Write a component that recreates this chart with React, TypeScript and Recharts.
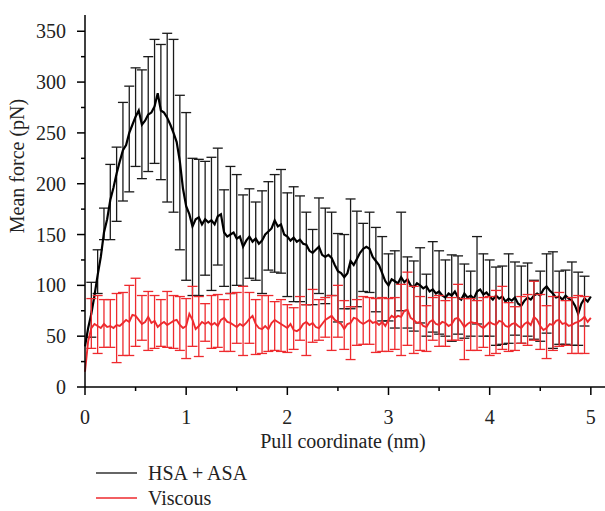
import { LineChart, Line, XAxis, YAxis, ErrorBar, Label } from "recharts";

const FONT = "'Liberation Serif', 'DejaVu Serif', serif";
const BLACK = "#000000";
const RED = "#ee2a2e";

// pull coordinate grid: one point every 1/32 nm, 0..5 nm
const X_STEP = 0.03125;

// HSA + ASA mean force (pN)
const hsaForce = [
  40, 58, 72, 90, 110, 128, 152, 165, 184, 196,
  210, 222, 233, 238, 250, 258, 266, 272, 258, 262,
  268, 270, 276, 289, 272, 270, 265, 258, 250, 241,
  222, 195, 178, 170, 158, 165, 167, 160, 165, 162,
  164, 160, 168, 170, 152, 148, 150, 152, 146, 148,
  138, 144, 148, 143, 146, 141, 144, 150, 153, 156,
  164, 158, 160, 150, 148, 144, 147, 143, 145, 141,
  140, 134, 132, 135, 138, 130, 128, 130, 127, 120,
  114, 112, 108, 112, 124, 120, 126, 132, 136, 138,
  136, 128, 124, 120, 112, 104, 100, 106, 104, 102,
  108, 103, 106, 100, 98, 102, 100, 97, 99, 94,
  96, 92, 94, 90, 88, 92, 90, 94, 88, 86,
  92, 88, 90, 87, 94, 96, 91, 93, 89, 86,
  90, 87, 89, 84, 87, 85, 88, 82, 80, 85,
  88, 86, 90, 92, 90, 96, 99, 95, 92, 88,
  89, 86, 90, 87, 85, 80, 72, 82, 87, 84,
  89,
];

// Viscous mean force (pN)
const viscForce = [
  15, 45, 58, 62, 60, 58, 62, 59, 60, 58,
  61, 60, 63, 66, 64, 71, 70, 66, 62, 64,
  69, 63, 65, 59, 62, 64, 61, 63, 65, 66,
  61, 58, 60, 72, 66, 57, 60, 64, 62, 64,
  61, 63, 60, 66, 68, 64, 63, 61, 59, 62,
  60, 63, 67, 70, 62, 58, 57, 60, 57, 63,
  66, 64, 62, 60, 58, 62, 56, 55, 57, 62,
  64, 61, 63, 59, 58, 62, 66, 68, 70, 66,
  64, 62, 57, 62, 63, 68, 67, 64, 62, 64,
  66, 63, 64, 61, 64, 60, 66, 70, 68, 70,
  69, 75, 76, 68, 66, 63, 64, 60, 59, 64,
  66, 62, 61, 64, 63, 60, 62, 67, 68, 64,
  59, 62, 64, 63, 63, 60, 58, 61, 64, 62,
  61, 65, 64, 60, 59, 62, 63, 60, 58, 62,
  64, 61, 69, 66, 60, 56, 58, 62, 61, 65,
  66, 62, 63, 60, 61, 63, 64, 66, 69, 64,
  68,
];

// error bar ends, one bar every 1/16 nm starting at 1/16 nm
const hsaBarLow = [
  49, 92, 145, 145, 163, 183, 192, 217, 205, 212,
  220, 204, 182, 172, 135, 105, 90, 90, 110, 95,
  120, 99, 92, 100, 99, 107, 105, 92, 115, 113,
  112, 89, 84, 84, 81, 81, 92, 82, 90, 64,
  77, 77, 79, 94, 93, 74, 65, 65, 58, 75,
  58, 55, 63, 50, 54, 52, 50, 45, 52, 48,
  50, 62, 50, 50, 41, 42, 43, 51, 43, 50,
  47, 45, 53, 38, 42, 42, 41, 41, 60,
];
const hsaBarHigh = [
  103, 135, 176, 219, 236, 280, 296, 314, 312, 325,
  342, 337, 348, 342, 287, 270, 225, 224, 222, 226,
  235, 194, 217, 209, 189, 195, 182, 193, 202, 209,
  214, 191, 197, 188, 172, 155, 186, 176, 172, 151,
  150, 185, 173, 161, 172, 157, 148, 131, 134, 172,
  128, 124, 137, 111, 143, 134, 125, 130, 129, 121,
  114, 148, 131, 125, 118, 119, 131, 123, 119, 122,
  105, 114, 131, 133, 114, 115, 123, 113, 109,
];
const viscBarLow = [
  38, 33, 39, 39, 24, 31, 31, 40, 46, 36,
  38, 40, 39, 38, 36, 28, 40, 30, 45, 38,
  39, 35, 35, 43, 31, 43, 32, 33, 35, 36,
  35, 34, 37, 46, 31, 44, 46, 49, 36, 49,
  37, 27, 41, 42, 42, 34, 35, 35, 37, 31,
  41, 33, 36, 35, 46, 40, 40, 46, 46, 27,
  36, 36, 39, 31, 33, 37, 35, 36, 43, 41,
  46, 37, 28, 36, 40, 41, 33, 33, 33,
];
const viscBarHigh = [
  87, 90, 86, 86, 92, 93, 100, 107, 90, 94,
  90, 86, 94, 90, 89, 87, 99, 89, 82, 90,
  91, 86, 92, 93, 99, 93, 86, 90, 90, 84,
  86, 81, 78, 89, 81, 96, 86, 88, 90, 100,
  85, 79, 86, 89, 88, 87, 88, 87, 88, 101,
  113, 99, 89, 80, 88, 90, 85, 88, 101, 87,
  87, 85, 88, 89, 95, 99, 83, 79, 89, 91,
  104, 91, 80, 89, 93, 85, 88, 90, 89,
];

const xTicks = [0, 0.5, 1, 1.5, 2, 2.5, 3, 3.5, 4, 4.5, 5];
const yTicks = [0, 25, 50, 75, 100, 125, 150, 175, 200, 225, 250, 275, 300, 325, 350];

const data = hsaForce.map((v, i) => {
  const k = i / 2;
  const bar = i % 2 === 0 && k >= 1 && k <= hsaBarLow.length;
  const w = viscForce[i];
  return {
    x: i * X_STEP,
    hsa: v,
    visc: w,
    hsaErr: bar ? [v - hsaBarLow[k - 1], hsaBarHigh[k - 1] - v] : undefined,
    viscErr: bar ? [w - viscBarLow[k - 1], viscBarHigh[k - 1] - w] : undefined,
  };
});

function XTick({ x, y, payload }: any) {
  const major = Number.isInteger(payload.value);
  return (
    <g>
      <line x1={x} y1={y} x2={x} y2={y + (major ? 8 : 4)} stroke="#000" strokeWidth={1.5} />
      {major && (
        <text x={x} y={y + 37} textAnchor="middle" fontSize={20} fontFamily={FONT} fill="#222">
          {payload.value}
        </text>
      )}
    </g>
  );
}

function YTick({ x, y, payload }: any) {
  const major = payload.value % 50 === 0;
  return (
    <g>
      <line x1={x - (major ? 8 : 4)} y1={y} x2={x} y2={y} stroke="#000" strokeWidth={1.5} />
      {major && (
        <text x={x - 19} y={y + 7} textAnchor="end" fontSize={20} fontFamily={FONT} fill="#222">
          {payload.value}
        </text>
      )}
    </g>
  );
}

export default function App() {
  return (
    <div style={{ position: "absolute", left: 0, top: 0, width: 605, height: 511 }}>
      <LineChart width={605} height={511} data={data} margin={{ top: 15, right: 0, bottom: 84, left: 0 }}>
        <XAxis
          type="number"
          dataKey="x"
          domain={[0, 5.14]}
          ticks={xTicks}
          interval={0}
          tickSize={0}
          tickMargin={0}
          tickLine={false}
          tick={<XTick />}
          height={40}
          axisLine={{ stroke: "#000", strokeWidth: 1.5 }}
        >
          <Label
            content={() => (
              <text x={343} y={448} textAnchor="middle" fontSize={20} fontFamily={FONT} fill="#222">
                Pull coordinate (nm)
              </text>
            )}
          />
        </XAxis>
        <YAxis
          type="number"
          domain={[0, 366]}
          ticks={yTicks}
          interval={0}
          tickSize={0}
          tickMargin={0}
          tickLine={false}
          tick={<YTick />}
          width={85}
          axisLine={{ stroke: "#000", strokeWidth: 1.5 }}
        >
          <Label
            content={() => (
              <text
                x={24}
                y={166}
                transform="rotate(-90 24 166)"
                textAnchor="middle"
                fontSize={20}
                fontFamily={FONT}
                fill="#222"
              >
                Mean force (pN)
              </text>
            )}
          />
        </YAxis>
        <Line
          dataKey="hsa"
          stroke={BLACK}
          strokeWidth={2.2}
          strokeLinejoin="miter"
          dot={false}
          isAnimationActive={false}
        >
          <ErrorBar dataKey="hsaErr" width={5} stroke="#1a1a1a" strokeWidth={1.3} direction="y" />
        </Line>
        <Line
          dataKey="visc"
          stroke={RED}
          strokeWidth={1.9}
          strokeLinejoin="miter"
          dot={false}
          isAnimationActive={false}
        >
          <ErrorBar dataKey="viscErr" width={5} stroke={RED} strokeWidth={1.3} direction="y" />
        </Line>
      </LineChart>
      <svg
        width={605}
        height={511}
        style={{ position: "absolute", left: 0, top: 0, pointerEvents: "none" }}
      >
        <line x1={96} y1={473} x2={137} y2={473} stroke="#333" strokeWidth={1.5} />
        <text x={148} y={480} fontSize={20} fontFamily={FONT} fill="#222">
          HSA + ASA
        </text>
        <line x1={96} y1={498} x2={137} y2={498} stroke={RED} strokeWidth={1.5} />
        <text x={148} y={505} fontSize={20} fontFamily={FONT} fill="#222">
          Viscous
        </text>
      </svg>
    </div>
  );
}
